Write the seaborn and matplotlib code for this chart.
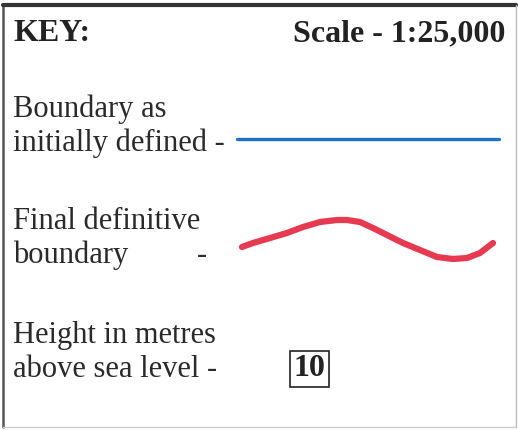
import numpy as np
import pandas as pd
import matplotlib
matplotlib.use('Agg')
import matplotlib.pyplot as plt
import seaborn as sns

# key entries
labels = [('Boundary as', 'initially defined -'),
          ('Final definitive', 'boundary'),
          ('Height in metres', 'above sea level -')]
title_left = 'KEY:'
title_right = 'Scale - 1:25,000'
height_value = '10'

# initial boundary (straight)
blue_x = [237, 499]
blue_y = [139, 139]

# final boundary (wavy)
red_x = [242, 253, 270, 287, 303, 320, 337, 347, 360, 373, 387, 403, 420, 437, 453, 467, 480, 493]
red_y = [247, 243, 238, 233, 227, 222, 220, 220, 222, 228, 235, 243, 250, 257, 259, 258, 253, 243]

sns.set_theme(style='white')
plt.rcParams['font.family'] = ['Liberation Serif', 'DejaVu Serif']

fig = plt.figure(figsize=(5.18, 4.30), dpi=100)
ax = fig.add_axes([0, 0, 1, 1])

# frame of the key
ax.plot([3, 3], [5, 427], color='#555555', lw=1.8)
ax.plot([3, 516], [5, 5], color='#333333', lw=3)
ax.plot([516, 516], [5, 427], color='#bbbbbb', lw=1)
ax.plot([3, 516], [427, 427], color='#cccccc', lw=1)

fs = 23
fb = 22
ax.text(13, 41, title_left, fontsize=fs, fontweight='bold', color='#222222')
ax.text(505, 41, title_right, fontsize=fs, fontweight='bold', color='#222222', ha='right')

tx = 13
base = [116.5, 229, 343]
gap = 34
for (l1, l2), b in zip(labels, base):
    ax.text(tx, b, l1, fontsize=fb, color='#2a2a2a')
    ax.text(tx, b + gap, l2, fontsize=fb, color='#2a2a2a')
ax.text(197, base[1] + gap, '-', fontsize=fb, color='#2a2a2a')

blue = pd.DataFrame({'x': blue_x, 'y': blue_y})
sns.lineplot(data=blue, x='x', y='y', color='#1d72c6', lw=2.4, ax=ax, sort=False)

red = pd.DataFrame({'x': red_x, 'y': red_y})
sns.lineplot(data=red, x='x', y='y', color='#e63a50', lw=4.5, ax=ax, sort=False,
             solid_capstyle='round', solid_joinstyle='round')

ax.text(309.5, 369, height_value, fontsize=fs, fontweight='bold', color='#222222',
        ha='center', va='center',
        bbox=dict(boxstyle='square,pad=0.1', fc='white', ec='#222222', lw=1.2))

ax.set_xlim(0, 518)
ax.set_ylim(430, 0)
ax.axis('off')

fig.savefig('out.png', dpi=100)
